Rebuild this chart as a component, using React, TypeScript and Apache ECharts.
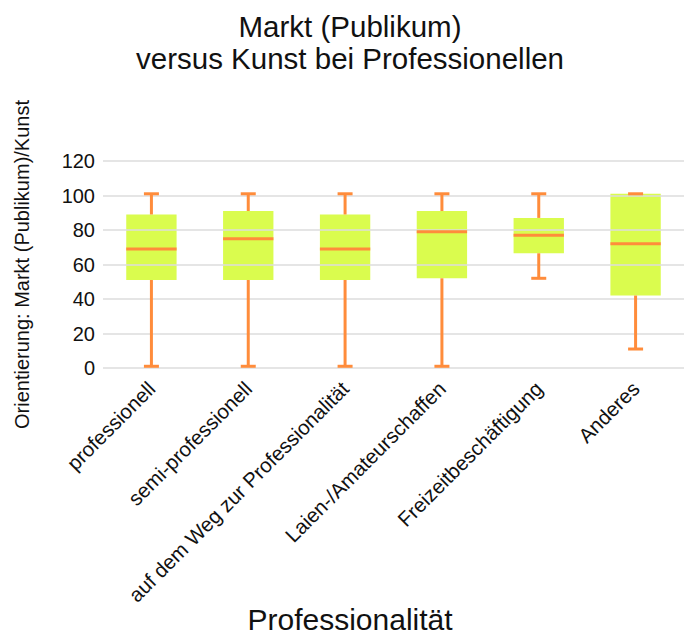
import React, { useEffect, useRef } from "react";
import * as echarts from "echarts";

const categories = [
  "professionell",
  "semi-professionell",
  "auf dem Weg zur Professionalität",
  "Laien-/Amateurschaffen",
  "Freizeitbeschäftigung",
  "Anderes",
];
const mins = [1, 1, 1, 1, 52, 11];
const q1s = [51, 51, 51, 52, 66.5, 42];
const medians = [69, 75, 69, 79, 77, 72];
const q3s = [89, 91, 89, 91, 87, 101];
const maxs = [101, 101, 101, 101, 101, 101];
const yTicks = [0, 20, 40, 60, 80, 100, 120];

const titleText = "Markt (Publikum)\nversus Kunst bei Professionellen";
const xName = "Professionalität";
const yName = "Orientierung: Markt (Publikum)/Kunst";

const FONT = "Liberation Sans";
const BOX = "#DAFC4E";
const ORANGE = "#FF8C3B";

export default function App() {
  const ref = useRef<HTMLDivElement>(null);
  useEffect(() => {
    if (!ref.current) return;
    const chart = echarts.init(ref.current, null, { renderer: "svg" });
    const data = categories.map((_, i) => [i, mins[i], q1s[i], medians[i], q3s[i], maxs[i]]);

    const boxItem = (params: any, api: any) => {
      const i = api.value(0);
      const band = api.size([1, 0])[0];
      const bw = band * 0.52;
      const top = api.coord([i, api.value(4)]);
      const bot = api.coord([i, api.value(2)]);
      return {
        type: "rect",
        shape: { x: top[0] - bw / 2, y: top[1], width: bw, height: bot[1] - top[1] },
        style: { fill: BOX },
      };
    };

    const lineItem = (params: any, api: any) => {
      const i = api.value(0);
      const band = api.size([1, 0])[0];
      const bw = band * 0.52;
      const cw = 15;
      const pMin = api.coord([i, api.value(1)]);
      const pQ1 = api.coord([i, api.value(2)]);
      const pMed = api.coord([i, api.value(3)]);
      const pQ3 = api.coord([i, api.value(4)]);
      const pMax = api.coord([i, api.value(5)]);
      const x = pMed[0];
      const st = { stroke: ORANGE, lineWidth: 3, fill: null };
      return {
        type: "group",
        children: [
          { type: "line", shape: { x1: x, y1: pMax[1], x2: x, y2: pQ3[1] }, style: st },
          { type: "line", shape: { x1: x, y1: pQ1[1], x2: x, y2: pMin[1] }, style: st },
          { type: "line", shape: { x1: x - cw / 2, y1: pMax[1], x2: x + cw / 2, y2: pMax[1] }, style: st },
          { type: "line", shape: { x1: x - cw / 2, y1: pMin[1], x2: x + cw / 2, y2: pMin[1] }, style: st },
          { type: "line", shape: { x1: x - bw / 2, y1: pMed[1], x2: x + bw / 2, y2: pMed[1] }, style: st },
        ],
      };
    };

    chart.setOption({
      animation: false,
      textStyle: { fontFamily: FONT },
      grid: { left: 103, right: 0, top: 161, bottom: 267, containLabel: false },
      graphic: [
        {
          type: "text",
          x: 350,
          y: 42,
          style: {
            text: titleText,
            font: `29.5px '${FONT}'`,
            fill: "#111",
            align: "center",
            verticalAlign: "middle",
            lineHeight: 32,
          },
        },
        {
          type: "text",
          x: 350,
          y: 619,
          style: {
            text: xName,
            font: `30px '${FONT}'`,
            fill: "#111",
            align: "center",
            verticalAlign: "middle",
          },
        },
      ],
      xAxis: {
        type: "category",
        data: categories,
        axisLine: { show: false },
        axisTick: { show: false },
        splitLine: { show: false },
        axisLabel: {
          interval: 0,
          rotate: 45,
          margin: 17,
          fontSize: 20.5,
          color: "#111",
          fontFamily: FONT,
        },
      },
      yAxis: {
        type: "value",
        min: 0,
        max: 120,
        interval: 20,
        z: 3,
        name: yName,
        nameLocation: "middle",
        nameGap: 71,
        nameRotate: 90,
        nameTextStyle: { fontSize: 20, color: "#111", fontFamily: FONT },
        axisLine: { show: false },
        axisTick: { show: false },
        axisLabel: {
          margin: 8,
          fontSize: 20,
          color: "#111",
          fontFamily: FONT,
          customValues: yTicks,
        },
        splitLine: { show: true, lineStyle: { color: "#DCDCDC", width: 1.5 } },
      },
      series: [
        {
          type: "custom",
          z: 2,
          renderItem: boxItem,
          encode: { x: 0, y: [1, 2, 3, 4, 5] },
          data,
        },
        {
          type: "custom",
          z: 4,
          renderItem: lineItem,
          encode: { x: 0, y: [1, 2, 3, 4, 5] },
          data,
        },
      ],
    });
    return () => chart.dispose();
  }, []);
  return <div ref={ref} style={{ width: 684, height: 635, position: "absolute", left: 0, top: 0 }} />;
}
